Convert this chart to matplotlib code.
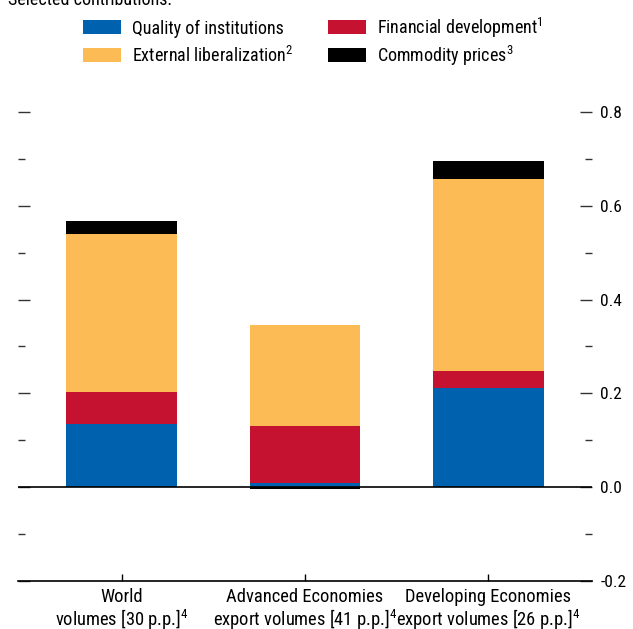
import numpy as np
import matplotlib.pyplot as plt
from matplotlib.patches import Rectangle

plt.rcParams['font.family'] = ['Roboto Condensed', 'DejaVu Sans']
plt.rcParams['mathtext.fontset'] = 'custom'
plt.rcParams['mathtext.rm'] = 'Roboto Condensed'

groups = ["World\nvolumes [30 p.p.]$^{\\mathrm{4}}$",
          "Advanced Economies\nexport volumes [41 p.p.]$^{\\mathrm{4}}$",
          "Developing Economies\nexport volumes [26 p.p.]$^{\\mathrm{4}}$"]
institutions = np.array([0.134, 0.008, 0.211])
financial = np.array([0.070, 0.122, 0.036])
liberalization = np.array([0.335, 0.215, 0.410])
commodity = np.array([0.028, -0.004, 0.038])

names = ["Quality of institutions",
         "Financial development$^{\\mathrm{1}}$",
         "External liberalization$^{\\mathrm{2}}$",
         "Commodity prices$^{\\mathrm{3}}$"]
colors = ["#0061ae", "#c41230", "#fdbb55", "#000000"]

W, H = 633, 629
fig = plt.figure(figsize=(W / 100, H / 100), dpi=100)
ax = fig.add_axes([18 / W, 1 - 581 / H, 574 / W, 469 / H])

x = np.arange(len(groups))
w = 0.605
ax.bar(x, institutions, w, color=colors[0], zorder=2)
ax.bar(x, financial, w, bottom=institutions, color=colors[1], zorder=2)
ax.bar(x, liberalization, w, bottom=institutions + financial, color=colors[2], zorder=2)
top = institutions + financial + liberalization
ax.bar(x, commodity, w, bottom=np.where(commodity > 0, top, 0), color=colors[3], zorder=2)

ax.axhline(0, color="black", lw=1.2, zorder=3)
ax.set_xlim(-0.565, 2.565)
ax.set_ylim(-0.2, 0.8)

for s in ["top", "left", "right"]:
    ax.spines[s].set_visible(False)
ax.spines["bottom"].set_linewidth(1.2)

ax.set_yticks(np.arange(-0.2, 0.81, 0.2))
ax.set_yticks(np.arange(-0.1, 0.8, 0.2), minor=True)
ax.yaxis.set_major_formatter(plt.FuncFormatter(lambda v, p: f"{v:.1f}"))
ax.tick_params(axis="y", which="both", direction="in", left=True, right=True,
               labelleft=False, labelright=True, labelsize=12.5, pad=6, color="#333333")
ax.tick_params(axis="y", which="major", length=8.5, width=1)
ax.tick_params(axis="y", which="minor", length=5, width=1)

ax.set_xticks(x)
ax.set_xticklabels(groups, fontsize=13.3, linespacing=1.12)
ax.tick_params(axis="x", direction="in", length=5, width=1, pad=5)

# legend drawn by hand so both columns line up
order = [0, 1, 2, 3]
for i in order:
    row, col = divmod(i, 2)
    px = [83, 328][col]
    py = [20, 48][row]
    ci = [0, 1, 2, 3][i]
    fig.add_artist(Rectangle((px / W, 1 - (py + 14) / H), 38 / W, 14 / H,
                             transform=fig.transFigure, color=colors[ci], lw=0))
    fig.text((px + 49) / W, 1 - (py + 14) / H, names[i], fontsize=13, va="baseline")

fig.text(0.012, 1 - 5 / H, "Selected contributions:", fontsize=13, va="baseline")

fig.savefig("out.png", dpi=100)
